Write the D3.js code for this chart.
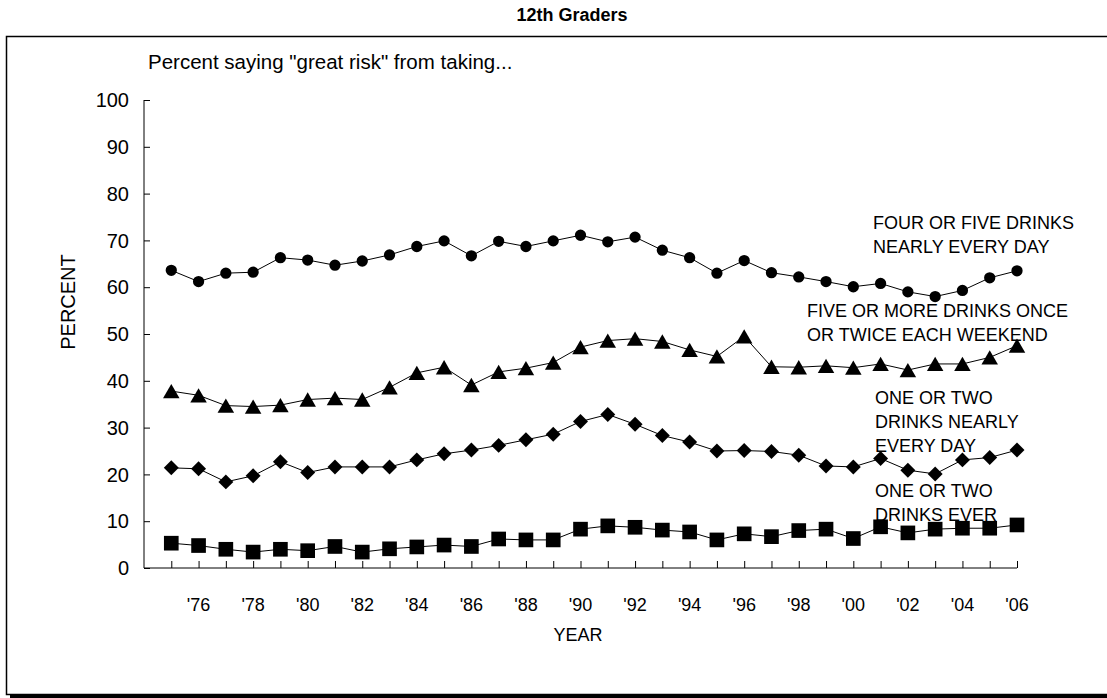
<!DOCTYPE html>
<html>
<head>
<meta charset="utf-8">
<script src="https://cdn.jsdelivr.net/npm/d3@7"></script>
<style>
  html, body { margin: 0; padding: 0; background: #fff; }
  svg { display: block; font-family: "Liberation Sans", Arial, sans-serif; }
</style>
</head>
<body>
<svg id="chart" width="1107" height="698"></svg>
<script>
const years = d3.range(1975, 2007);
const fourFiveDaily = [63.6,61.2,63.0,63.2,66.3,65.8,64.7,65.6,66.9,68.7,69.9,66.7,69.8,68.7,69.9,71.1,69.7,70.7,67.9,66.3,63.0,65.7,63.1,62.2,61.2,60.1,60.8,59.0,58.0,59.3,62.0,63.5];
const fiveWeekend = [37.8,36.9,34.7,34.5,34.8,36.0,36.3,36.0,38.6,41.7,42.9,39.1,41.9,42.7,43.9,47.2,48.6,49.0,48.4,46.6,45.2,49.5,43.0,42.9,43.2,42.8,43.6,42.3,43.6,43.6,45.0,47.5];
const oneTwoDaily = [21.4,21.2,18.4,19.7,22.7,20.4,21.6,21.6,21.6,23.1,24.4,25.2,26.2,27.4,28.6,31.3,32.8,30.7,28.3,26.9,25.0,25.1,24.9,24.1,21.8,21.6,23.4,20.9,20.1,23.1,23.6,25.2];
const oneTwoEver = [5.3,4.8,4.0,3.4,4.0,3.7,4.6,3.4,4.1,4.5,4.9,4.6,6.2,6.0,6.0,8.3,9.0,8.7,8.1,7.7,6.0,7.3,6.7,8.0,8.3,6.3,8.8,7.5,8.3,8.5,8.5,9.2];
const yTicks = [0,10,20,30,40,50,60,70,80,90,100];
const xLabelYears = d3.range(1976, 2007, 2);
const seriesLabels = [
  ["FOUR OR FIVE DRINKS", "NEARLY EVERY DAY"],
  ["FIVE OR MORE DRINKS ONCE", "OR TWICE EACH WEEKEND"],
  ["ONE OR TWO", "DRINKS NEARLY", "EVERY DAY"],
  ["ONE OR TWO", "DRINKS EVER"]
];

const svg = d3.select("#chart");

// frame with shadow
svg.append("rect").attr("x", 10).attr("y", 694.5).attr("width", 1100).attr("height", 4).attr("fill", "#000");
svg.append("path").attr("d", "M1110,36.5 H6.5 V694.5 H1110").attr("fill", "none").attr("stroke", "#000").attr("stroke-width", 1.5);

// title
svg.append("text").attr("x", 572).attr("y", 21).attr("text-anchor", "middle")
  .attr("font-size", 18).attr("font-weight", "bold").text("12th Graders");

svg.append("text").attr("x", 148).attr("y", 69).attr("font-size", 20.5)
  .text('Percent saying "great risk" from taking...');

const x = d3.scaleLinear().domain([1974, 2006]).range([144, 1017]);
const y = d3.scaleLinear().domain([0, 100]).range([568, 100]);

// y axis
const yAxis = svg.append("g").attr("transform", "translate(144,0)")
  .call(d3.axisRight(y).tickValues(yTicks).tickSize(6).tickFormat(""));
yAxis.select(".domain").attr("d", `M0,${y(100)}V${y(0)}`);
yAxis.selectAll("line").attr("stroke", "#000");
svg.append("g").selectAll("text").data(yTicks).join("text")
  .attr("x", 129).attr("y", d => y(d)).attr("dy", "0.36em")
  .attr("text-anchor", "end").attr("font-size", 20).text(d => d);

// x axis
const xAxis = svg.append("g").attr("transform", "translate(0,568)")
  .call(d3.axisTop(x).tickValues(years).tickSize(7).tickFormat(""));
xAxis.select(".domain").attr("d", `M${x(1974)},0H${x(2006)}`);
svg.append("g").selectAll("text").data(xLabelYears).join("text")
  .attr("x", d => x(d)).attr("y", 611).attr("text-anchor", "middle").attr("font-size", 18)
  .text(d => "'" + String(d).slice(2));

svg.append("text").attr("x", 578).attr("y", 641).attr("text-anchor", "middle")
  .attr("font-size", 18).text("YEAR");
svg.append("text").attr("transform", "translate(75,302) rotate(-90)")
  .attr("text-anchor", "middle").attr("font-size", 20).text("PERCENT");

// series
const line = d3.line().x((d, i) => x(years[i])).y(d => y(d));
const triSize = 118;
const triH = Math.sqrt(triSize / (Math.sqrt(3) * 3));
const series = [
  {data: fourFiveDaily, sym: d3.symbol(d3.symbolCircle, 100), rot: 0, dy: 0},
  {data: fiveWeekend, sym: d3.symbol(d3.symbolTriangle, triSize), rot: 0, dy: triH / 2},
  {data: oneTwoDaily, sym: d3.symbol(d3.symbolSquare, 112), rot: 45, dy: 0},
  {data: oneTwoEver, sym: d3.symbol(d3.symbolSquare, 215), rot: 0, dy: 0}
];
series.forEach(s => {
  svg.append("path").attr("d", line(s.data)).attr("fill", "none").attr("stroke", "#000").attr("stroke-width", 1);
  svg.append("g").selectAll("path").data(s.data).join("path")
    .attr("transform", (d, i) => `translate(${x(years[i])},${y(d) + s.dy}) rotate(${s.rot})`)
    .attr("d", s.sym).attr("fill", "#000");
});

// series labels
const labelPos = [[873, 229], [807, 317], [875, 404], [875, 497]];
seriesLabels.forEach((lines, k) => {
  const t = svg.append("text").attr("font-size", 18);
  lines.forEach((ln, j) => {
    t.append("tspan").attr("x", labelPos[k][0]).attr("y", labelPos[k][1] + j * 24).text(ln);
  });
});
</script>
</body>
</html>
